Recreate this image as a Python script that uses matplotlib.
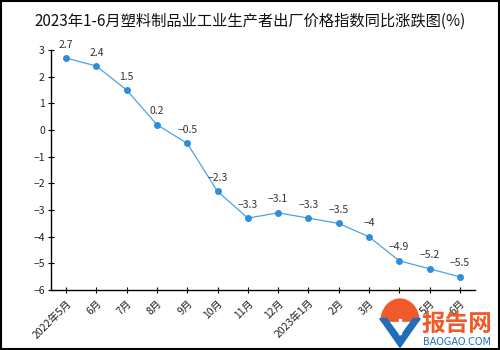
import matplotlib
matplotlib.use("Agg")
import matplotlib.pyplot as plt
from matplotlib.patches import Wedge, Polygon, Rectangle

plt.rcParams['font.family'] = ['Noto Sans CJK SC', 'DejaVu Sans']
plt.rcParams['axes.unicode_minus'] = True

categories = ["2022年5月", "6月", "7月", "8月", "9月", "10月", "11月", "12月",
              "2023年1月", "2月", "3月", "4月", "5月", "6月"]
values = [2.7, 2.4, 1.5, 0.2, -0.5, -2.3, -3.3, -3.1, -3.3, -3.5, -4, -4.9, -5.2, -5.5]
y_ticks = [3, 2, 1, 0, -1, -2, -3, -4, -5, -6]
title = "2023年1-6月塑料制品业工业生产者出厂价格指数同比涨跌图(%)"

fig = plt.figure(figsize=(5, 3.5), dpi=100)
ax = fig.add_axes([0.102, 0.171, 0.848, 0.686])

x = list(range(len(values)))
ax.plot(x, values, color='#4aa3e6', lw=0.9, marker='o', ms=4,
        markerfacecolor='#2b8fdc', markeredgecolor='#2b8fdc', zorder=3)
for xi, v in zip(x, values):
    lab = ('%g' % v).replace('-', '−')
    ax.annotate(lab, (xi, v), xytext=(0, 6), textcoords='offset points',
                ha='center', va='bottom', fontsize=7.5, color='#333333')

ax.set_xlim(-0.5, len(values) - 0.5)
ax.set_ylim(-6, 3)
ax.set_yticks(y_ticks)
ax.set_yticklabels([('%d' % t).replace('-', '−') for t in y_ticks])
ax.set_xticks(x)
ax.set_xticklabels(categories, rotation=45, ha='right', rotation_mode='anchor')
ax.tick_params(axis='both', direction='inout', length=5, width=0.8,
               labelsize=7.5, labelcolor='#222222')
ax.tick_params(axis='x', pad=3)
ax.tick_params(axis='y', pad=2)
for s in ['top', 'right']:
    ax.spines[s].set_visible(False)
for s in ['left', 'bottom']:
    ax.spines[s].set_linewidth(1.0)
    ax.spines[s].set_color('black')

fig.text(0.5, 0.94, title, ha='center', va='center', fontsize=11, color='#111111')

# figure border
fig.patches.append(Rectangle((0.002, 0.003), 0.996, 0.994, transform=fig.transFigure,
                             fill=False, edgecolor='black', lw=1.5))

# watermark logo
la = fig.add_axes([0.755, 0.0, 0.09, 0.15])
la.set_xlim(0, 1)
la.set_ylim(0, 1)
la.axis('off')
la.add_patch(Wedge((0.5, 0.55), 0.42, 0, 180, color='#ee5a2a'))
la.add_patch(Polygon([[0.05, 0.6], [0.5, 0.05], [0.95, 0.6], [0.8, 0.6], [0.5, 0.25], [0.2, 0.6]],
                     closed=True, color='#1f6fb8'))
la.add_patch(Rectangle((0.47, 0.3), 0.06, 0.3, color='white'))

fig.text(0.843, 0.075, "报告网", fontsize=17, fontweight='bold', color='#ef5a28',
         ha='left', va='center')
fig.text(0.845, 0.022, "BAOGAO.COM", fontsize=7, color='#1f6fb8', ha='left', va='center',
         family='DejaVu Sans')

fig.savefig("out.png", dpi=100)
